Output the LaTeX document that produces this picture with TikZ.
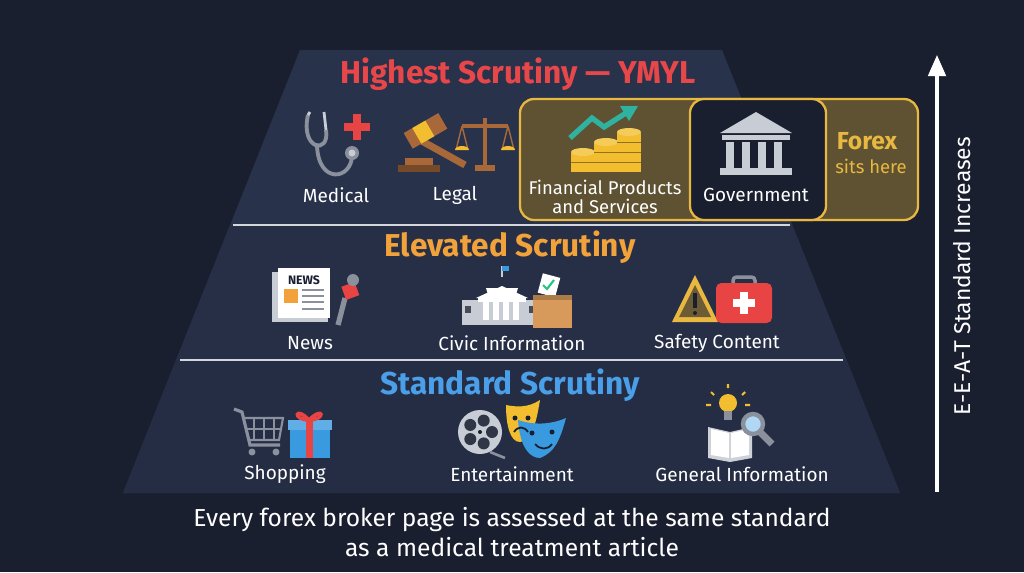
\documentclass[tikz,border=0pt]{standalone}
\usepackage{fontspec}
\setmainfont{Fira Sans}
\usetikzlibrary{arrows.meta,calc}
\definecolor{bg}{HTML}{1A1F30}
\definecolor{band}{HTML}{28324A}
\definecolor{redt}{HTML}{E8474A}
\definecolor{oranget}{HTML}{F2A23A}
\definecolor{bluet}{HTML}{4A9FE8}
\definecolor{gold}{HTML}{E8B840}
\definecolor{goldfill}{HTML}{5E5232}
\definecolor{gray1}{HTML}{C8CCD4}
\definecolor{gray2}{HTML}{8A909C}
\definecolor{brown}{HTML}{A8683A}
\definecolor{teal}{HTML}{2FB3A0}
\definecolor{coin}{HTML}{F2BE30}
\definecolor{box}{HTML}{D89A5A}
\definecolor{redi}{HTML}{E84444}
\definecolor{bluei}{HTML}{3A9AE0}
\begin{document}
\begin{tikzpicture}[x=0.02cm,y=-0.02cm,
  lbl/.style={text=white,font=\fontsize{10.8}{12}\selectfont,align=center},
  ttl/.style={font=\bfseries\fontsize{18}{20}\selectfont},
  div/.style={line width=1.5pt,draw=gray1!80}]
\fill[bg] (0,0) rectangle (1024,572);
\useasboundingbox (0,0) rectangle (1024,572);
% pyramid
\fill[band] (300,50) -- (722,50) -- (900,493) -- (123,493) -- cycle;
\fill[band!85!bg] (230,225) -- (792,225) -- (846,360) -- (176,360) -- cycle;
\fill[band!75!bg] (176,360) -- (846,360) -- (900,493) -- (123,493) -- cycle;
\draw[div] (233,225) -- (790,225);
\draw[div] (180,360) -- (843,360);
% titles
\node[ttl,text=redt] (t1) at (518,74) {Highest Scrutiny — YMYL};
\node[ttl,text=oranget] (t2) at (510,247) {Elevated Scrutiny};
\node[ttl,text=bluet] (t3) at (510,385) {Standard Scrutiny};
% gold box
\draw[gold,line width=1.3pt,fill=goldfill,rounded corners=8] (520,99) rectangle (918,220);
\draw[gold,line width=1.3pt,fill=bg,rounded corners=8] (690,99) rectangle (826,220);
\node[text=gold,font=\bfseries\fontsize{14}{16}\selectfont] (fx) at (867,141) {Forex};
\node[text=gold,font=\fontsize{10.5}{12}\selectfont] (sh) at (871,166) {sits here};
% labels
\node[lbl] (med) at (336,195) {Medical};
\node[lbl] (leg) at (455,195) {Legal};
\node[lbl,font=\fontsize{10.5}{11}\selectfont] (fin) at (605,197) {Financial Products\\and Services};
\node[lbl] (gov) at (756,195) {Government};
\node[lbl] (news) at (310,343) {News};
\node[lbl] (civ) at (512,343) {Civic Information};
\node[lbl] (saf) at (717,343) {Safety Content};
\node[lbl] (shop) at (285,474) {Shopping};
\node[lbl] (ent) at (512,474) {Entertainment};
\node[lbl] (gen) at (742,474) {General Information};
% --- icons ---
% stethoscope
\draw[gray2,line width=2.2pt] (308,115) .. controls (300,150) and (330,155) .. (326,130);
\draw[gray2,line width=2.2pt] (317,145) .. controls (318,185) and (352,180) .. (352,155);
\draw[gray1,line width=1.6pt] (308,115) -- (310,112) (326,130) -- (324,112);
\fill[gray2] (352,153) circle (7); \fill[gray1] (352,153) circle (3.5);
\fill[redi] (344,123) rectangle (370,131); \fill[redi] (353,114) rectangle (361,140);
% legal
\fill[brown!70!black] (398,165) rectangle (440,172); \fill[brown] (405,158) rectangle (433,165);
\draw[brown,line width=4pt] (420,140) -- (465,165);
\fill[brown, rotate around={30:(425,130)}] (405,122) rectangle (445,140);
\fill[coin, rotate around={30:(425,130)}] (415,122) rectangle (430,140);
\draw[brown,line width=2pt] (485,118) -- (485,165) (462,126) -- (508,126);
\fill[brown] (475,165) rectangle (495,171);
\draw[brown,line width=0.8pt] (462,126) -- (456,150) (462,126) -- (468,150) (508,126) -- (502,150) (508,126) -- (514,150);
\fill[coin] (455,150) arc (180:360:7 and 4) -- cycle; \fill[coin] (501,150) arc (180:360:7 and 4) -- cycle;
% financial
\foreach \x/\h in {583/2,606/3,629/4}{
  \foreach \i in {1,...,\h}{ \fill[coin] (\x-12,172-\i*10+10) rectangle (\x+12,172-\i*10); \draw[coin!60!black,line width=0.5pt] (\x-12,172-\i*10) -- (\x+12,172-\i*10);}
  \fill[coin!80!white] (\x,172-\h*10) ellipse (12 and 4);}
\draw[teal,line width=3pt] (570,138) -- (592,118) -- (604,127) -- (626,113);
\fill[teal] (638,106) -- (620,106) -- (629,121) -- cycle;
% government
\fill[gray1] (720,133) -- (756,112) -- (792,133) -- cycle;
\fill[gray1] (722,135) rectangle (790,140);
\foreach \x in {730,746,762,778}{\fill[gray1] (\x-4,142) rectangle (\x+4,168);}
\fill[gray1] (720,168) rectangle (792,175);
% news
\fill[gray1] (272,272) rectangle (328,322); \fill[white] (278,268) rectangle (330,318);
\node[font=\bfseries\fontsize{7}{8}\selectfont,text=bg] (nw) at (304,280) {NEWS};
\fill[oranget] (284,289) rectangle (298,303);
\foreach \y in {290,296,302,309}{\draw[gray2,line width=0.8pt] (302,\y) -- (324,\y);}
\draw[gray2,line width=3pt] (345,298) -- (338,325);
\fill[redi,rotate around={20:(350,290)}] (343,284) rectangle (357,298);
\fill[gray2] (353,280) circle (6);
% civic
\fill[gray1] (462,320) rectangle (540,325);
\fill[gray1] (462,300) rectangle (540,320);
\fill[white] (486,288) arc (180:0:16 and 11) -- cycle;
\fill[white] (476,298) -- (502,286) -- (528,298) -- cycle;
\fill[white] (478,297) rectangle (526,302);
\foreach \x in {486,496,506,516}{\fill[white] (\x-3,302) rectangle (\x+3,320);}
\foreach \x in {468,532}{\fill[bg!60!gray2] (\x-3,306) rectangle (\x+3,313);}
\draw[gray1,line width=0.8pt] (502,277) -- (502,266); \fill[bluei] (502,266) rectangle (509,271);
\fill[white,rotate around={-15:(548,285)}] (540,275) rectangle (558,295);
\draw[teal!80!green,line width=1.2pt] (543,285) -- (547,289) -- (554,280);
\fill[box] (533,295) rectangle (572,328); \fill[box!80!black] (533,295) rectangle (572,300);
% safety
\fill[gold] (695,275) -- (718,322) -- (672,322) -- cycle;
\fill[bg!60!gold] (695,285) -- (711,317) -- (679,317) -- cycle;
\fill[bg] (693,293) rectangle (697,308); \fill[bg] (695,313) circle (2);
\draw[gray2,line width=2pt,rounded corners=2] (733,283) -- (733,277) -- (755,277) -- (755,283);
\fill[redi,rounded corners=3] (716,283) rectangle (772,323);
\fill[white] (740,292) rectangle (748,314);
\fill[white] (733,299) rectangle (755,307);
% shopping
\draw[gray2,line width=1.8pt] (234,409) -- (242,412) -- (250,445) -- (280,445);
\draw[gray2,line width=1.2pt] (244,418) -- (283,418) -- (279,440) -- (249,440);
\foreach \x in {254,264,274}{\draw[gray2,line width=0.8pt] (\x,418) -- (\x,440);}
\draw[gray2,line width=0.8pt] (246,429) -- (281,429);
\fill[gray2] (252,452) circle (3.5) (276,452) circle (3.5);
\fill[bluei] (290,428) rectangle (330,458); \fill[bluei!80!white] (288,420) rectangle (332,430);
\fill[redi] (306,420) rectangle (313,458);
\draw[redi,line width=2pt] (309,420) .. controls (295,405) and (292,420) .. (309,420) .. controls (324,405) and (326,420) .. (309,420);
% entertainment
\fill[gray1] (480,432) circle (22);
\foreach \a in {0,72,144,216,288}{\fill[bg!80!gray2] ($(480,432)+(\a:12)$) circle (6);}
\fill[bg] (480,432) circle (2);
\draw[gray2,line width=1.5pt] (490,452) -- (505,458);
\fill[coin] (506,405) .. controls (506,425) and (510,442) .. (520,442) .. controls (532,440) and (536,424) .. (540,400) .. controls (528,408) and (516,407) .. (506,405) -- cycle;
\fill[bluei] (518,420) .. controls (520,448) and (530,458) .. (540,458) .. controls (555,452) and (560,440) .. (566,418) .. controls (550,425) and (533,425) .. (518,420) -- cycle;
\fill[bg] (515,418) circle (2.5) (528,418) circle (2.5) (532,433) circle (2.5) (552,432) circle (2.5);
\draw[bg,line width=1pt] (514,432) .. controls (518,426) and (524,426) .. (528,432);
\draw[bg,line width=1pt] (535,444) .. controls (540,450) and (548,450) .. (552,444);
% general information
\fill[gray1!90!white] (708,427) -- (730,432) -- (752,427) -- (752,458) -- (730,462) -- (708,458) -- cycle;
\fill[white] (711,429) -- (729,433) -- (729,458) -- (711,455) -- cycle;
\fill[white] (731,433) -- (749,429) -- (749,455) -- (731,458) -- cycle;
\fill[coin] (728,403) circle (9); \fill[gray2] (724,411) rectangle (732,420);
\draw[coin,line width=1.2pt] (728,388) -- (728,384) (714,395) -- (711,392) (742,395) -- (745,392) (711,405) -- (706,405) (745,405) -- (750,405);
\draw[gray2,line width=4pt] (760,432) -- (772,444);
\draw[gray2,line width=2.5pt,fill=bluei!40!white] (753,424) circle (10);
% arrow
\coordinate (a0) at (937,492); \coordinate (a1) at (937,55);
\draw[white,line width=1.8pt,-{Triangle[length=12pt,width=10pt]}] (a0) -- (a1);
\node[text=white,rotate=90,font=\fontsize{13}{15}\selectfont] (ax) at (962,276) {E-E-A-T Standard Increases};
% bottom
\node[text=white,align=center,font=\fontsize{14}{17}\selectfont] (bt) at (512,532) {Every forex broker page is assessed at the same standard\\as a medical treatment article};
\end{tikzpicture}
\end{document}
